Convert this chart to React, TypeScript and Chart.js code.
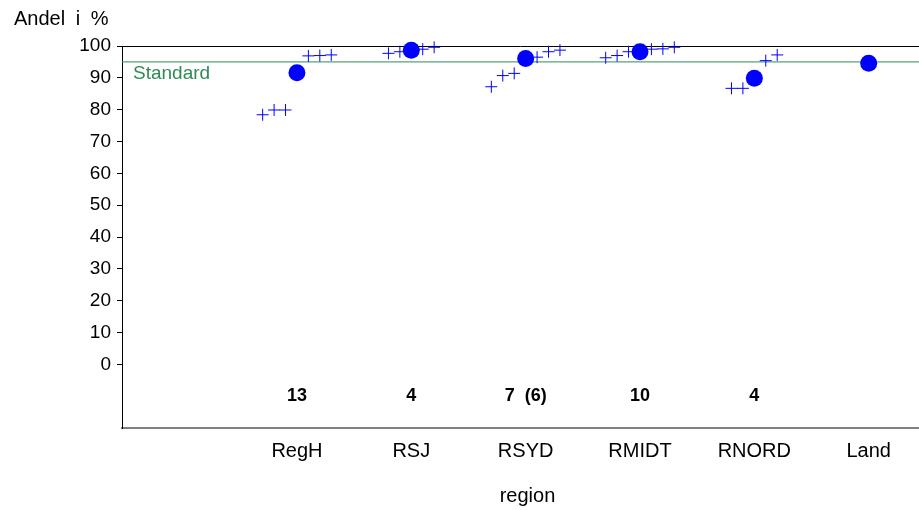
import React, { useEffect, useRef } from "react";
import { Chart, registerables } from "chart.js";
Chart.register(...registerables);

const regions = ["RegH", "RSJ", "RSYD", "RMIDT", "RNORD", "Land"];
const regionMeans = [91.6, 98.7, 96.1, 98.2, 89.9, 94.6];
const regH = [78.4, 79.9, 79.9, 96.9, 97.0, 97.2];
const rsj = [97.7, 98.2, 99.0, 99.6];
const rsyd = [87.2, 90.7, 91.4, 96.5, 98.2, 98.7];
const rmidt = [96.3, 97.0, 98.2, 99.0, 99.1, 99.6];
const rnord = [86.7, 86.7, 95.4, 97.2];
const land: number[] = [];
const hospitalValues = [regH, rsj, rsyd, rmidt, rnord, land];
const counts = ["13", "4", "7  (6)", "10", "4", ""];
const standardValue = 95;
const yTickValues = [0, 10, 20, 30, 40, 50, 60, 70, 80, 90, 100];

const X_MIN = -0.53;
const X_MAX = 6.44;
const Y_MIN = -20;
const Y_MAX = 100;
const JITTER = 0.1;
const FONT = "'Liberation Sans', Arial, Helvetica, sans-serif";
const GREEN = "rgb(46,139,87)";

function hospitalPoints() {
  const pts: { x: number; y: number }[] = [];
  hospitalValues.forEach((vals, i) => {
    const n = vals.length;
    const half = Math.floor(n / 2);
    vals.forEach((v, k) => {
      const off = k < half ? -(half - k) * JITTER : (k - half + 1) * JITTER;
      pts.push({ x: i + 1 + off, y: v });
    });
  });
  return pts;
}

const overlay = {
  id: "overlay",
  beforeDatasetsDraw(chart: any) {
    const { ctx, chartArea } = chart;
    ctx.save();
    ctx.strokeStyle = "#000";
    ctx.lineWidth = 1;
    ctx.beginPath();
    ctx.moveTo(chartArea.left, Math.round(chartArea.top) + 0.5);
    ctx.lineTo(chartArea.right, Math.round(chartArea.top) + 0.5);
    ctx.stroke();
    ctx.restore();
  },
  afterDraw(chart: any) {
    const { ctx, chartArea, scales } = chart;
    const xs = scales.x;
    const ys = scales.y;
    ctx.save();
    ctx.fillStyle = "#000";
    ctx.font = `20px ${FONT}`;
    ctx.textAlign = "left";
    ctx.textBaseline = "middle";
    try { (ctx as any).wordSpacing = "5px"; } catch (e) {}
    ctx.fillText("Andel i %", 14, 19);
    try { (ctx as any).wordSpacing = "0px"; } catch (e) {}
    ctx.fillStyle = GREEN;
    ctx.font = `19px ${FONT}`;
    ctx.fillText("Standard", chartArea.left + 11, ys.getPixelForValue(standardValue) + 12);
    ctx.fillStyle = "#000";
    ctx.font = `bold 18px ${FONT}`;
    ctx.textAlign = "center";
    counts.forEach((c, i) => {
      if (!c) return;
      ctx.fillText(c, xs.getPixelForValue(i + 1), ys.getPixelForValue(-10));
    });
    ctx.font = `20px ${FONT}`;
    ctx.fillText("region", (chartArea.left + chartArea.right) / 2 + 7, 496);
    ctx.restore();
  },
};

export default function App() {
  const ref = useRef<HTMLCanvasElement>(null);
  useEffect(() => {
    document.body.style.margin = "0";
    const chart = new Chart(ref.current!, {
      type: "scatter",
      data: {
        datasets: [
          {
            type: "line",
            data: [
              { x: X_MIN, y: standardValue },
              { x: X_MAX, y: standardValue },
            ],
            borderColor: GREEN,
            borderWidth: 1,
            pointRadius: 0,
            order: 3,
          } as any,
          {
            data: hospitalPoints(),
            pointStyle: "cross",
            pointRadius: 6,
            borderColor: "#0000ff",
            backgroundColor: "#0000ff",
            borderWidth: 1,
            order: 2,
            clip: false,
          } as any,
          {
            data: regionMeans.map((v, i) => ({ x: i + 1, y: v })),
            pointStyle: "circle",
            pointRadius: 8.5,
            borderWidth: 0,
            backgroundColor: "#0000ff",
            borderColor: "#0000ff",
            order: 1,
            clip: false,
          } as any,
        ],
      },
      options: {
        animation: false,
        responsive: false,
        maintainAspectRatio: false,
        layout: { autoPadding: false, padding: { top: 46, left: 0, right: 0, bottom: 0 } },
        plugins: { legend: { display: false }, tooltip: { enabled: false } },
        scales: {
          x: {
            type: "linear",
            min: X_MIN,
            max: X_MAX,
            afterBuildTicks: (s: any) => {
              s.ticks = regions.map((_, i) => ({ value: i + 1 }));
            },
            afterFit: (s: any) => {
              s.height = 82;
              s.paddingLeft = 0;
              s.paddingRight = 0;
            },
            grid: { display: false, drawTicks: false },
            border: { display: true, color: "#808080", width: 2 },
            ticks: {
              padding: 11,
              color: "#000",
              font: { family: FONT, size: 20 },
              maxRotation: 0,
              autoSkip: false,
              callback: (v: any) => regions[Math.round(v) - 1] ?? "",
            },
          },
          y: {
            type: "linear",
            min: Y_MIN,
            max: Y_MAX,
            afterBuildTicks: (s: any) => {
              s.ticks = yTickValues.map((v) => ({ value: v }));
            },
            afterFit: (s: any) => {
              s.width = 122;
              s.paddingTop = 0;
              s.paddingBottom = 0;
            },
            grid: {
              drawOnChartArea: false,
              drawTicks: true,
              tickLength: 5,
              color: "#000",
            },
            border: { display: true, color: "#000", width: 1 },
            ticks: {
              padding: 6,
              color: "#000",
              font: { family: FONT, size: 19 },
              autoSkip: false,
            },
          },
        },
      },
      plugins: [overlay],
    } as any);
    return () => chart.destroy();
  }, []);
  return <canvas ref={ref} width={919} height={510} style={{ display: "block" }} />;
}
